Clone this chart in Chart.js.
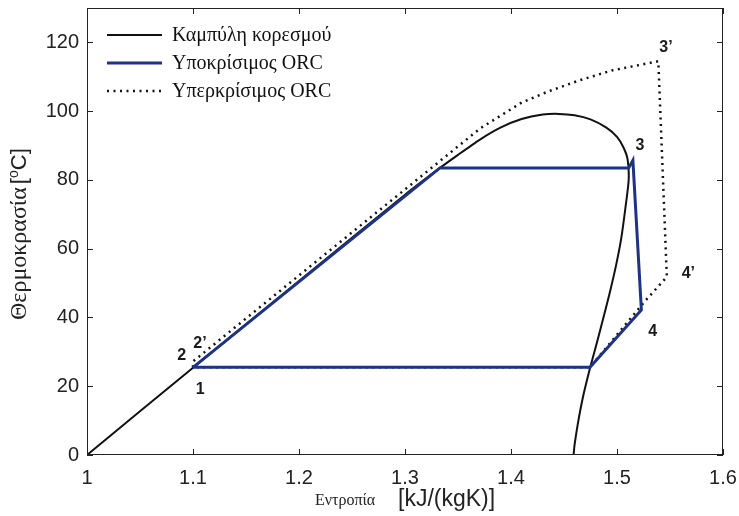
<!DOCTYPE html>
<html>
<head>
<meta charset="utf-8">
<script src="https://cdn.jsdelivr.net/npm/chart.js@4.4.1/dist/chart.umd.min.js"></script>
<style>
  html, body { margin: 0; padding: 0; background: #fff; }
  #wrap { width: 739px; height: 516px; }
</style>
</head>
<body>
<div id="wrap"><canvas id="mycanvas" width="739" height="516"></canvas></div>
<script>
// saturation curve (entropy, temperature)
var satS = [1.0, 1.1, 1.2, 1.3, 1.333, 1.35, 1.37, 1.39, 1.41, 1.43, 1.445, 1.46, 1.475, 1.49, 1.5, 1.506, 1.51, 1.511, 1.508, 1.504, 1.499, 1.493, 1.486, 1.48, 1.4745, 1.468, 1.463, 1.46, 1.459];
var satT = [0, 25.4, 50.6, 75.7, 83.5, 87.3, 91.6, 95.2, 97.7, 99.0, 99.2, 98.8, 97.6, 95.2, 92.5, 89.5, 86, 80, 72, 63, 55, 47, 38.5, 31.5, 25.2, 17, 9, 3, 0];

// subcritical ORC  1 -> 2 -> 3 -> 4 -> 1
var subS = [1.1, 1.333, 1.511, 1.515, 1.523, 1.4745, 1.1];
var subT = [25.5, 83.5, 83.5, 85.7, 42.2, 25.5, 25.5];

// supercritical ORC  1 -> 2' -> 3' -> 4' -> 1
var supS = [1.1, 1.1, 1.333, 1.371, 1.41, 1.434, 1.465, 1.496, 1.539, 1.547, 1.526, 1.4745, 1.1];
var supT = [25.5, 27.2, 85.5, 95, 102.5, 105.6, 109, 111.9, 114.5, 51.8, 44.6, 25.5, 25.5];

var xTicks = [1, 1.1, 1.2, 1.3, 1.4, 1.5, 1.6];
var xTickLabels = ['1', '1.1', '1.2', '1.3', '1.4', '1.5', '1.6'];
var yTicks = [0, 20, 40, 60, 80, 100, 120];
var yTickLabels = ['0', '20', '40', '60', '80', '100', '120'];

var seriesNames = ['Καμπύλη κορεσμού', 'Υποκρίσιμος ORC', 'Υπερκρίσιμος ORC'];

// state point labels
var ptText = ['1', '2', "2\u2019", '3', "3\u2019", '4', "4\u2019"];
var ptS = [1.1069, 1.0893, 1.1066, 1.5217, 1.5462, 1.5336, 1.5673];
var ptT = [19.1, 28.9, 32.5, 90.1, 118.5, 35.8, 52.8];

function toXY(xs, ys) {
    var out = [];
    for (var i in xs) {
        out.push({x: xs[i], y: ys[i]});
    }
    return out;
}

var SERIF = '"Liberation Serif", "DejaVu Serif", serif';
var SANS = '"Liberation Sans", Arial, sans-serif';
var BLUE = '#1e3386';

var boxTicks = {
    id: 'boxTicks',
    afterDraw: function(chart) {
        var c = chart.ctx, a = chart.chartArea;
        var xs = chart.scales.x, ys = chart.scales.y;
        c.save();
        c.strokeStyle = '#222';
        c.lineWidth = 1;
        c.strokeRect(a.left + 0.5, a.top + 0.5, a.right - a.left - 1, a.bottom - a.top - 1);
        c.beginPath();
        xTicks.forEach(function(v) {
            var px = Math.round(xs.getPixelForValue(v)) + 0.5;
            c.moveTo(px, a.bottom); c.lineTo(px, a.bottom - 6);
            c.moveTo(px, a.top); c.lineTo(px, a.top + 6);
        });
        yTicks.forEach(function(v) {
            var py = Math.round(ys.getPixelForValue(v)) + 0.5;
            c.moveTo(a.left, py); c.lineTo(a.left + 6, py);
            c.moveTo(a.right, py); c.lineTo(a.right - 6, py);
        });
        c.stroke();

        // state point labels
        c.fillStyle = '#1a1a1a';
        c.font = 'bold 16px ' + SANS;
        c.textAlign = 'center';
        c.textBaseline = 'middle';
        for (var i in ptText) {
            c.fillText(ptText[i], xs.getPixelForValue(ptS[i]), ys.getPixelForValue(ptT[i]));
        }

        // legend
        var ds = chart.data.datasets;
        var rows = [27, 55, 83];
        c.textAlign = 'left';
        c.font = '20px ' + SERIF;
        for (var k = 0; k < ds.length; k++) {
            var ly = a.top + rows[k];
            c.beginPath();
            c.strokeStyle = ds[k].borderColor;
            c.lineWidth = ds[k].borderWidth;
            c.setLineDash(ds[k].borderDash || []);
            c.moveTo(a.left + 20, ly);
            c.lineTo(a.left + 75, ly);
            c.stroke();
            c.setLineDash([]);
            c.fillStyle = '#111';
            c.fillText(seriesNames[k], a.left + 85, ly + 1);
        }

        // axis titles: greek word in serif, unit in sans
        c.fillStyle = '#222';
        c.textBaseline = 'alphabetic';
        // x title
        c.font = '16px ' + SERIF;
        c.fillText('Εντροπία', 315, 505);
        c.font = '23px ' + SANS;
        c.fillText('[kJ/(kgK)]', 398, 506);

        // y title (rotated), reading upward from y = 320
        c.translate(26, 320);
        c.rotate(-Math.PI / 2);
        c.font = '24px ' + SERIF;
        var t1 = c.measureText('Θερμοκρασία').width + 3;
        c.font = '22px ' + SANS;
        var b1 = c.measureText('[').width;
        c.font = '14px ' + SANS;
        var ow = c.measureText('o').width;
        c.font = '24px ' + SERIF;
        c.fillText('Θερμοκρασία', 0, 0);
        c.font = '22px ' + SANS;
        c.fillText('[', t1, 0);
        c.font = '14px ' + SANS;
        c.fillText('o', t1 + b1, -8);
        c.font = '22px ' + SANS;
        c.fillText('C]', t1 + b1 + ow, 0);
        c.restore();
    }
};

var chartdata = {
    datasets: [
        {
            label: seriesNames[0],
            data: toXY(satS, satT),
            borderColor: '#111111',
            borderWidth: 2,
            tension: 0.2,
            order: 3
        },
        {
            label: seriesNames[1],
            data: toXY(subS, subT),
            borderColor: BLUE,
            borderWidth: 3,
            order: 1
        },
        {
            label: seriesNames[2],
            data: toXY(supS, supT),
            borderColor: '#111111',
            borderWidth: 2.5,
            borderDash: [2, 4.5],
            order: 2
        }
    ]
};

var ctx = document.getElementById('mycanvas');
var graph = new Chart(ctx, {
    type: 'scatter',
    data: chartdata,
    plugins: [boxTicks],
    options: {
        responsive: false,
        animation: false,
        showLine: true,
        elements: { point: { radius: 0, hoverRadius: 0 }, line: { fill: false } },
        layout: { padding: { top: 8, right: 16, left: 0, bottom: 0 } },
        plugins: { legend: { display: false }, tooltip: { enabled: false } },
        scales: {
            x: {
                type: 'linear',
                min: 1, max: 1.6,
                grid: { display: false, drawTicks: false },
                border: { display: false },
                afterFit: function(s) {
                    s.height = 61;
                    s.paddingLeft = 0; s.paddingRight = 0;
                },
                afterBuildTicks: function(s) { s.ticks = xTicks.map(function(v) { return {value: v}; }); },
                ticks: {
                    padding: 11,
                    color: '#222',
                    font: { family: SANS, size: 20 },
                    maxRotation: 0,
                    autoSkip: false,
                    callback: function(v, i) { return xTickLabels[i]; }
                }
            },
            y: {
                type: 'linear',
                min: 0, max: 130,
                grid: { display: false, drawTicks: false },
                border: { display: false },
                afterFit: function(s) {
                    s.width = 87;
                    s.paddingTop = 0; s.paddingBottom = 0;
                },
                afterBuildTicks: function(s) { s.ticks = yTicks.map(function(v) { return {value: v}; }); },
                ticks: {
                    padding: 8,
                    color: '#222',
                    font: { family: SANS, size: 20 },
                    autoSkip: false,
                    callback: function(v, i) { return yTickLabels[i]; }
                }
            }
        }
    }
});
</script>
</body>
</html>
